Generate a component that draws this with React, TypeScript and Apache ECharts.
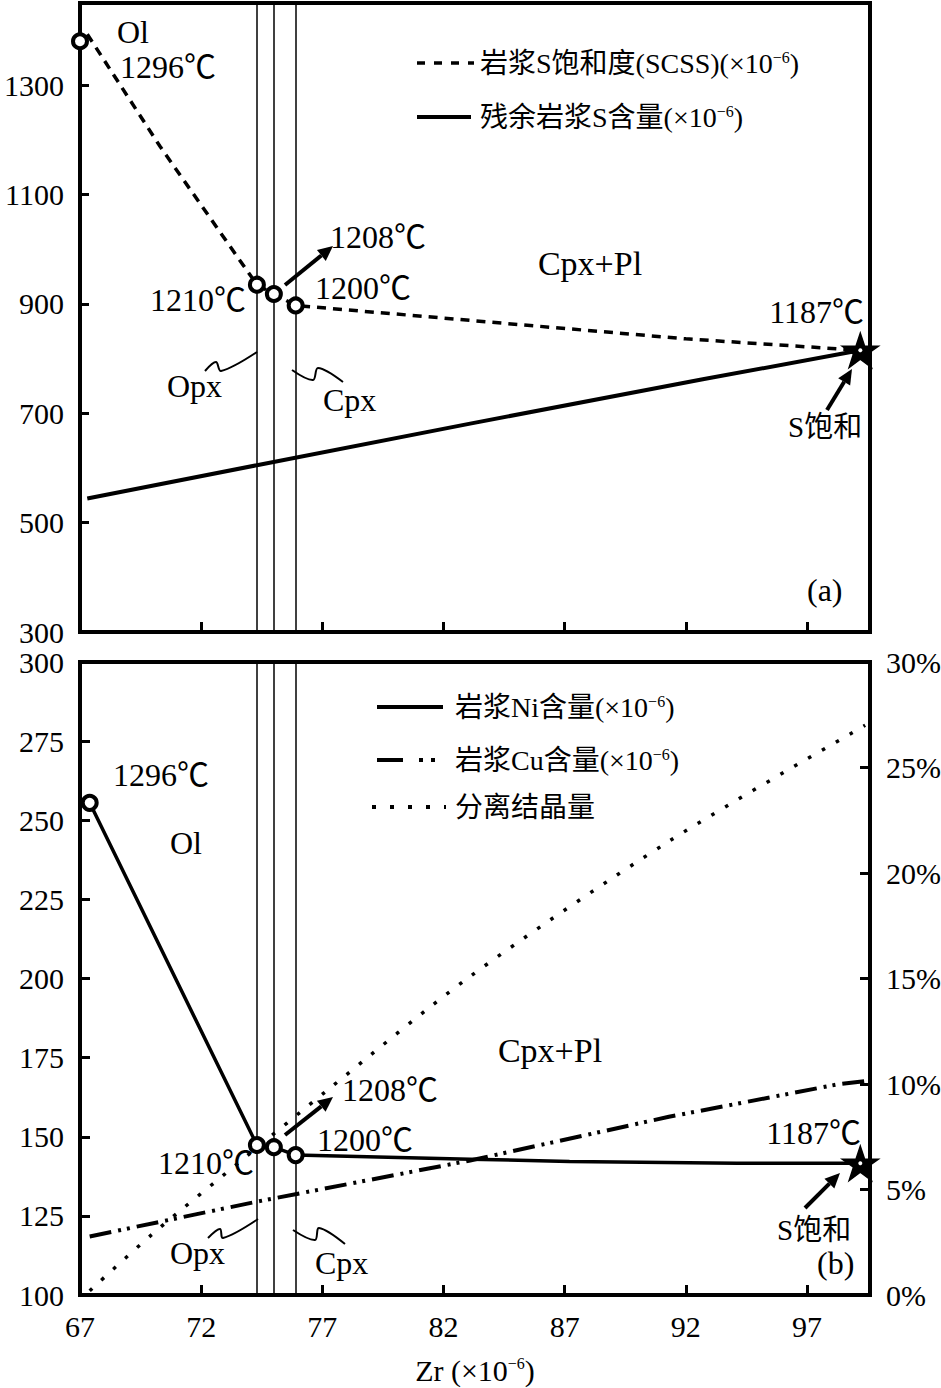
import React, { useEffect, useRef } from "react";
import * as echarts from "echarts";

// ---------- data ----------
const zrTicks = [67, 72, 77, 82, 87, 92, 97];
const sTicks = [300, 500, 700, 900, 1100, 1300];
const phaseBoundaries = [74.3, 75.0, 75.9];

// panel (a)
const scssLine = [[67.3, 1393], [70.3, 1188], [74.3, 935], [75.0, 918], [75.9, 897], [92.0, 836], [99.2, 815]];
const scssPoints = [[67.0, 1380], [74.3, 935], [75.0, 918], [75.9, 897]];
const residualS = [[67.3, 544], [74.3, 605], [83.1, 681], [92.7, 762], [99.2, 815]];
const saturationA = [[99.2, 815]];

// panel (b)
const niContent = [[67.4, 255.5], [74.3, 147.4], [75.0, 146.7], [75.9, 144.2], [83.1, 142.9], [87.2, 142.2], [94.1, 141.6], [99.2, 141.6]];
const niPoints = [[67.4, 255.5], [74.3, 147.4], [75.0, 146.7], [75.9, 144.2]];
const cuContent = [[67.4, 118.5], [74.3, 129.5], [83.1, 142.5], [91.3, 156.3], [98.3, 166.6], [99.4, 167.6]];
const crystallized = [[67.4, 0.2], [70.0, 2.9], [73.9, 6.6], [77.2, 9.7], [83.1, 15.1], [91.3, 21.5], [99.4, 27.0]];
const saturationB = [[99.2, 141.6]];

// ---------- styles ----------
const FONT = "'Liberation Serif', 'Noto Sans CJK SC', serif";
const BLACK = "#000";
const STAR = "path://M50,0 L62,36 L100,36 L69,58 L81,95 L50,72 L19,95 L31,58 L0,36 L38,36 Z";

const axisLine = { show: true, onZero: false, lineStyle: { color: BLACK, width: 4 } };
const tickStyle = { color: BLACK, width: 3 };
const labelStyle = { fontSize: 30, fontFamily: FONT, color: BLACK };
const supRich = { sup: { fontSize: 16, fontFamily: FONT, verticalAlign: "top", lineHeight: 18 } };

function text(x: number, y: number, t: string, size = 32, align = "left", rich = false) {
  const style: any = {
    text: t,
    fontSize: size,
    fontFamily: FONT,
    fill: BLACK,
    align,
    verticalAlign: "middle",
  };
  if (rich) style.rich = { sup: { fontSize: 16, fontFamily: FONT, fill: BLACK, verticalAlign: "top", lineHeight: 14 } };
  return { type: "text", x, y, style, z: 100 };
}

function arrow(x1: number, y1: number, x2: number, y2: number) {
  const dx = x2 - x1, dy = y2 - y1;
  const len = Math.hypot(dx, dy);
  const ux = dx / len, uy = dy / len;
  const hl = 15, hw = 7;
  const bx = x2 - ux * hl, by = y2 - uy * hl;
  return [
    { type: "line", shape: { x1, y1, x2: bx, y2: by }, style: { stroke: BLACK, lineWidth: 4 }, z: 100 },
    {
      type: "polygon",
      shape: { points: [[x2, y2], [bx - uy * hw, by + ux * hw], [bx + uy * hw, by - ux * hw]] },
      style: { fill: BLACK },
      z: 100,
    },
  ];
}

function squiggle(points: number[][]) {
  return { type: "polyline", shape: { points, smooth: 0.35 }, style: { stroke: BLACK, lineWidth: 2, fill: null }, z: 100 };
}

function legendLine(x1: number, x2: number, y: number, dash: number[] | null, width = 4) {
  return {
    type: "line",
    shape: { x1, y1: y, x2, y2: y },
    style: { stroke: BLACK, lineWidth: width, lineDash: dash || undefined },
    z: 100,
  };
}

const graphic: any[] = [
  // panel (a) legend
  legendLine(417, 474, 63, [8, 9], 3.5),
  text(480, 63, "岩浆S饱和度(SCSS)(×10{sup|−6})", 28, "left", true),
  legendLine(417, 471, 117, null, 4),
  text(480, 117, "残余岩浆S含量(×10{sup|−6})", 28, "left", true),
  // panel (a) annotations
  text(117, 32, "Ol", 32),
  text(120, 67, "1296℃", 32),
  text(246, 300, "1210℃", 32, "right"),
  text(330, 237, "1208℃", 32),
  text(315, 288, "1200℃", 32),
  text(590, 263, "Cpx+Pl", 34, "center"),
  text(864, 312, "1187℃", 32, "right"),
  text(788, 427, "S饱和", 29),
  text(807, 590, "(a)", 32),
  text(167, 386, "Opx", 32),
  text(323, 400, "Cpx", 32),
  ...arrow(285, 285, 333, 246),
  ...arrow(827, 410, 852, 369),
  squiggle([[205, 371], [216, 362], [221, 371], [257, 352]]),
  squiggle([[292, 370], [313, 380], [318, 368], [343, 382]]),

  // panel (b) legend
  legendLine(377, 443, 707, null, 4),
  text(455, 707, "岩浆Ni含量(×10{sup|−6})", 28, "left", true),
  legendLine(377, 440, 760, [26, 16, 4, 8, 4, 40], 4),
  text(455, 760, "岩浆Cu含量(×10{sup|−6})", 28, "left", true),
  legendLine(372, 446, 807, [4, 14], 4),
  text(455, 807, "分离结晶量", 28),
  // panel (b) annotations
  text(113, 775, "1296℃", 32),
  text(170, 843, "Ol", 32),
  text(550, 1050, "Cpx+Pl", 34, "center"),
  text(342, 1090, "1208℃", 32),
  text(317, 1140, "1200℃", 32),
  text(254, 1163, "1210℃", 32, "right"),
  text(170, 1253, "Opx", 32),
  text(315, 1263, "Cpx", 32),
  text(861, 1133, "1187℃", 32, "right"),
  text(777, 1230, "S饱和", 29),
  text(817, 1263, "(b)", 32),
  ...arrow(285, 1135, 333, 1097),
  ...arrow(805, 1208, 840, 1173),
  squiggle([[208, 1238], [220, 1229], [223, 1238], [258, 1219]]),
  squiggle([[293, 1230], [315, 1240], [319, 1228], [345, 1244]]),
];

const boundaryMarkLine = {
  silent: true,
  symbol: ["none", "none"],
  label: { show: false },
  lineStyle: { color: BLACK, width: 1.5, type: "solid" },
  data: phaseBoundaries.map((v) => ({ xAxis: v })),
};

const circleStyle = {
  type: "scatter",
  symbol: "circle",
  symbolSize: 14,
  itemStyle: { color: "#fff", borderColor: BLACK, borderWidth: 4, opacity: 1 },
  z: 5,
};

const starStyle = {
  type: "scatter",
  symbol: STAR,
  symbolSize: 36,
  symbolKeepAspect: true,
  itemStyle: { color: BLACK, borderColor: BLACK, borderWidth: 1.5, opacity: 1 },
  z: 6,
};

const starDotStyle = {
  type: "scatter",
  symbol: "circle",
  symbolSize: 4,
  itemStyle: { color: "#fff", opacity: 1 },
  z: 7,
};

const option: any = {
  animation: false,
  backgroundColor: "#fff",
  textStyle: { fontFamily: FONT },
  grid: [
    { left: 80, top: 3, width: 790, height: 629, show: true, borderColor: BLACK, borderWidth: 4, backgroundColor: "transparent", outerBoundsMode: "none" },
    { left: 80, top: 662, width: 790, height: 633, show: true, borderColor: BLACK, borderWidth: 4, backgroundColor: "transparent", outerBoundsMode: "none" },
  ],
  xAxis: [
    {
      gridIndex: 0,
      type: "value",
      min: 67,
      max: 99.6,
      axisLine,
      axisTick: { show: true, inside: true, length: 10, lineStyle: tickStyle, customValues: zrTicks },
      axisLabel: { show: false, customValues: zrTicks },
      splitLine: { show: false },
    },
    {
      gridIndex: 1,
      type: "value",
      min: 67,
      max: 99.6,
      axisLine,
      axisTick: { show: true, inside: true, length: 10, lineStyle: tickStyle, customValues: zrTicks },
      axisLabel: { ...labelStyle, margin: 16, customValues: zrTicks, formatter: (v: number) => String(v) },
      splitLine: { show: false },
      name: "Zr (×10{sup|−6})",
      nameLocation: "middle",
      nameGap: 60,
      nameTextStyle: { fontSize: 30, fontFamily: FONT, color: BLACK, rich: supRich },
    },
  ],
  yAxis: [
    {
      gridIndex: 0,
      type: "value",
      min: 300,
      max: 1450,
      axisLine,
      axisTick: { show: true, inside: true, length: 9, lineStyle: tickStyle, customValues: sTicks },
      axisLabel: { ...labelStyle, margin: 16, customValues: sTicks, formatter: (v: number) => String(v) },
      splitLine: { show: false },
    },
    {
      gridIndex: 1,
      type: "value",
      min: 100,
      max: 300,
      interval: 25,
      axisLine,
      axisTick: { show: true, inside: true, length: 10, lineStyle: tickStyle },
      axisLabel: { ...labelStyle, margin: 16, formatter: (v: number) => String(v) },
      splitLine: { show: false },
    },
    {
      gridIndex: 1,
      type: "value",
      position: "right",
      min: 0,
      max: 30,
      interval: 5,
      axisLine,
      axisTick: { show: true, inside: true, length: 10, lineStyle: tickStyle },
      axisLabel: { ...labelStyle, margin: 16, formatter: "{value}%" },
      splitLine: { show: false },
    },
  ],
  series: [
    {
      name: "岩浆S饱和度(SCSS)",
      type: "line",
      xAxisIndex: 0,
      yAxisIndex: 0,
      data: scssLine,
      showSymbol: false,
      lineStyle: { color: BLACK, width: 3.5, type: [9, 7] },
      markLine: boundaryMarkLine,
      z: 3,
    },
    {
      name: "残余岩浆S含量",
      type: "line",
      xAxisIndex: 0,
      yAxisIndex: 0,
      data: residualS,
      showSymbol: false,
      lineStyle: { color: BLACK, width: 4 },
      z: 3,
    },
    { ...circleStyle, name: "SCSS点", xAxisIndex: 0, yAxisIndex: 0, data: scssPoints },
    { ...starStyle, name: "S饱和(a)", xAxisIndex: 0, yAxisIndex: 0, data: saturationA },
    { ...starDotStyle, xAxisIndex: 0, yAxisIndex: 0, data: saturationA },
    {
      name: "岩浆Ni含量",
      type: "line",
      xAxisIndex: 1,
      yAxisIndex: 1,
      data: niContent,
      showSymbol: false,
      lineStyle: { color: BLACK, width: 3.5 },
      markLine: boundaryMarkLine,
      z: 3,
    },
    {
      name: "岩浆Cu含量",
      type: "line",
      xAxisIndex: 1,
      yAxisIndex: 1,
      data: cuContent,
      showSymbol: false,
      lineStyle: { color: BLACK, width: 4, type: [22, 7, 3, 6, 3, 7] },
      z: 3,
    },
    {
      name: "分离结晶量",
      type: "line",
      xAxisIndex: 1,
      yAxisIndex: 2,
      data: crystallized,
      showSymbol: false,
      smooth: 0.3,
      lineStyle: { color: BLACK, width: 3.5, type: [3.5, 12.5] },
      z: 3,
    },
    { ...circleStyle, name: "Ni点", xAxisIndex: 1, yAxisIndex: 1, data: niPoints },
    { ...starStyle, name: "S饱和(b)", xAxisIndex: 1, yAxisIndex: 1, data: saturationB },
    { ...starDotStyle, xAxisIndex: 1, yAxisIndex: 1, data: saturationB },
  ],
  graphic,
};

export default function App() {
  const ref = useRef<HTMLDivElement>(null);
  useEffect(() => {
    if (!ref.current) return;
    const chart = echarts.init(ref.current, null, { renderer: "svg" });
    chart.setOption(option);
    return () => chart.dispose();
  }, []);
  return (
    <div
      ref={ref}
      style={{ position: "absolute", left: 0, top: 0, width: 941, height: 1388, background: "#fff" }}
    />
  );
}
